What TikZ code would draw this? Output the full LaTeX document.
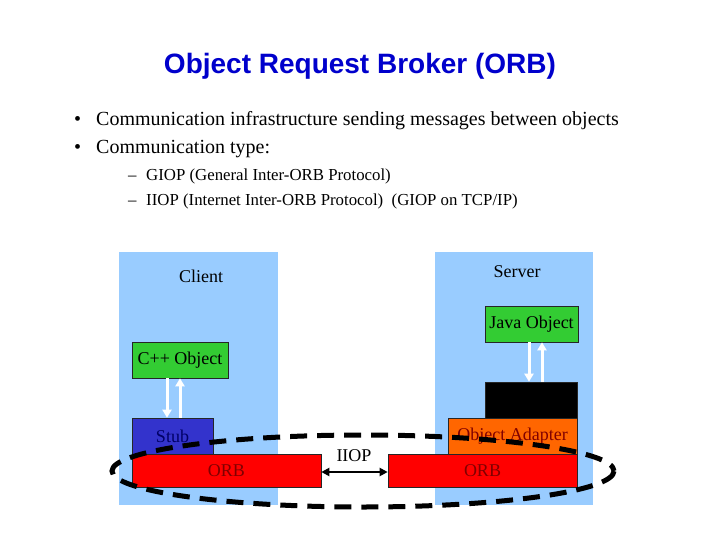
\documentclass[tikz,border=0pt]{standalone}
\usepackage{fontspec}
\setmainfont{Liberation Serif}
\newfontfamily\titlefont{Liberation Sans}
\usetikzlibrary{arrows.meta}
\definecolor{titleblue}{HTML}{0000CC}
\definecolor{regionblue}{HTML}{99CCFF}
\definecolor{objgreen}{HTML}{33CC33}
\definecolor{stubblue}{HTML}{3333CC}
\definecolor{adapterorange}{HTML}{FF6600}
\definecolor{orbred}{HTML}{FF0000}
\definecolor{textred}{HTML}{800000}
\definecolor{textnavy}{HTML}{000066}
\begin{document}
\begin{tikzpicture}[x=1pt,y=-1pt,
  region/.style={fill=regionblue, draw=none, inner sep=0pt},
  box/.style={draw=black!85, line width=0.6pt, inner sep=0pt, font=\fontsize{18}{20}\selectfont},
  lbl/.style={inner sep=0pt, font=\fontsize{18}{20}\selectfont},
  bullet/.style={anchor=base west, inner sep=0pt, font=\fontsize{20}{24}\selectfont},
  subbullet/.style={anchor=base west, inner sep=0pt, font=\fontsize{16.8}{19}\selectfont},
  whitearrow/.style={draw=white, line width=3pt, -{Triangle[length=8pt,width=9pt]}},
  iiop/.style={draw=black, line width=2pt, {Triangle[length=8pt,width=8pt]}-{Triangle[length=8pt,width=8pt]}},
  busring/.style={draw=black, line width=5pt, dash pattern=on 17pt off 10pt}
]
\useasboundingbox (0,0) rectangle (720,540);
\fill[white] (0,0) rectangle (720,540);

% title and bullets
\node[anchor=base, inner sep=0pt, font=\titlefont\bfseries\fontsize{28}{32}\selectfont, text=titleblue] (title) at (360,74) {Object Request Broker (ORB)};
\node[bullet] (b1d) at (74,126) {\textbullet};
\node[bullet] (b1) at (96,126) {Communication infrastructure sending messages between objects};
\node[bullet] (b2d) at (74,154) {\textbullet};
\node[bullet] (b2) at (96,154) {Communication type:};
\node[subbullet] (s1d) at (128,181) {--};
\node[subbullet] (s1) at (146,181) {GIOP (General Inter-ORB Protocol)};
\node[subbullet] (s2d) at (128,206) {--};
\node[subbullet] (s2) at (146,206) {IIOP (Internet Inter-ORB Protocol)\ \ (GIOP on TCP/IP)};

% regions
\node[region, minimum width=159pt, minimum height=253pt] (client) at (198.5,378.5) {};
\node[region, minimum width=158pt, minimum height=253pt] (server) at (514,378.5) {};
\node[lbl] (clientlbl) at (201,276) {Client};
\node[lbl] (serverlbl) at (517,272) {Server};

% client side
\node[box, fill=objgreen, minimum width=96pt, minimum height=36pt] (cpp) at (180,360) {C++ Object};
\node[box, fill=stubblue, text=textnavy, minimum width=81pt, minimum height=36pt] (stub) at (172.5,436) {Stub};
\node[box, fill=orbred, text=textred, minimum width=189pt, minimum height=33pt] (orbc) at (226.5,470.5) {ORB};

% server side
\node[box, fill=objgreen, minimum width=93pt, minimum height=36pt] (java) at (531.5,324) {Java Object};
\node[box, fill=black, minimum width=92pt, minimum height=36pt] (skel) at (531,400) {};
\node[box, fill=adapterorange, text=textred, minimum width=129pt, minimum height=36pt] (adapter) at (512.5,436) {Object Adapter};
\node[box, fill=orbred, text=textred, minimum width=189pt, minimum height=33pt] (orbs) at (482.5,470.5) {ORB};

% white arrows
\draw[whitearrow] ([xshift=-13pt]cpp.south) -- ([xshift=-5.5pt]stub.north);
\draw[whitearrow] ([xshift=7.5pt]stub.north) -- ([xshift=0pt]cpp.south);
\draw[whitearrow] ([xshift=-2.5pt]java.south) -- ([xshift=-2pt]skel.north);
\draw[whitearrow] ([xshift=11pt]skel.north) -- ([xshift=10.5pt]java.south);

% IIOP
\draw[iiop] ([yshift=-1.5pt]orbc.east) -- ([yshift=-1.5pt]orbs.west);
\node[lbl] (iioplbl) at (354,456) {IIOP};

% dashed bus ring
\coordinate (ringc) at (363,471);
\draw[busring] (ringc) ellipse [x radius=251, y radius=36];
\end{tikzpicture}
\end{document}
